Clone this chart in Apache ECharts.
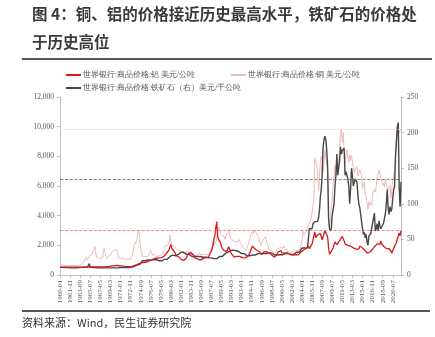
<!DOCTYPE html>
<html><head><meta charset="utf-8">
<script src="https://cdn.jsdelivr.net/npm/echarts@6/dist/echarts.min.js"></script>
<style>html,body{margin:0;padding:0;background:#fff}#c{width:435px;height:337px}</style>
</head><body><div id="c"></div>
<script>
// bimonthly categories 1960-01 .. 2022-01
const categories = [];
for (let y = 1960; y <= 2021; y++) { for (const m of ['01','03','05','07','09','11']) categories.push(y + '-' + m); }
categories.push('2022-01');

// Aluminium, USD/mt (left axis) — Jan,Mar,May,Jul,Sep,Nov per year
const aluminium = [
511,511,511,511,511,511, 505,505,500,500,500,500, 490,485,485,485,480,480, 480,490,495,500,500,505,
510,515,520,525,525,530, 535,540,540,540,540,540, 540,540,540,540,540,540, 540,540,540,540,540,545,
550,560,565,565,570,570, 580,590,600,610,620,630, 630,640,640,640,630,620, 620,615,610,600,590,580,
570,560,560,560,560,560, 560,580,600,630,660,700, 700,720,750,790,820,840, 840,850,860,860,870,880,
900,930,960,1000,1020,1040, 1080,1100,1120,1130,1140,1150, 1160,1160,1170,1170,1180,1200, 1300,1400,1450,1500,1550,1700,
1900,2050,1800,1750,1700,1550, 1450,1300,1250,1200,1200,1150, 1050,1000,1000,980,950,970, 1150,1300,1450,1550,1550,1500,
1500,1450,1300,1150,1100,1150, 1080,1050,1050,1000,1000,1000, 1100,1150,1150,1180,1200,1150, 1200,1350,1400,1600,1800,2000,
2500,2650,3200,3600,2600,2400, 2300,2200,1950,1800,1700,1650, 1550,1550,1600,1550,1900,1750, 1550,1450,1350,1300,1200,1100,
1200,1250,1250,1300,1250,1150, 1150,1170,1150,1200,1150,1050, 1150,1270,1330,1480,1550,1800, 1950,1850,1800,1900,1750,1650,
1600,1550,1550,1500,1380,1450, 1550,1600,1620,1580,1660,1550, 1480,1420,1400,1350,1330,1280, 1200,1200,1350,1450,1550,1500,
1650,1650,1500,1580,1600,1480, 1600,1480,1500,1430,1370,1380, 1380,1410,1340,1360,1300,1370, 1380,1400,1360,1430,1420,1560,
1620,1650,1700,1700,1700,1800, 1840,1950,1780,1850,1840,2100, 2380,2430,2900,2510,2460,2710, 2820,2770,2800,2700,2380,2460,
2440,3000,2900,3070,2560,1850, 1400,1340,1460,1700,1860,1950, 2230,2200,2050,1990,2120,2300, 2440,2550,2600,2500,2300,2100,
2150,2200,2000,1880,2050,1950, 2040,1910,1830,1770,1760,1750, 1730,1710,1750,1950,1990,2060, 1820,1770,1800,1640,1590,1470,
1480,1530,1550,1630,1600,1740, 1790,1900,1910,1900,2100,2100, 2210,2070,2300,2090,2030,1940, 1850,1870,1790,1800,1750,1770,
1770,1610,1460,1640,1750,1930, 2000,2190,2430,2490,2830,2640, 3000
];

// Copper, USD/mt (left axis)
const copper = [
690,690,700,690,680,660, 640,630,630,640,640,640, 645,645,645,645,645,645, 645,645,645,645,645,660,
700,750,900,1000,1200,1300, 1000,1200,1300,1300,1350,1400, 1450,1700,1950,1500,1200,1200, 1150,1100,1050,1050,1150,1300,
1800,1600,1250,1100,1150,1200, 1300,1400,1500,1550,1600,1700, 1700,1750,1700,1450,1200,1100, 1050,1100,1200,1150,1100,1050,
1050,1100,1100,1050,1050,1050, 1200,1400,1600,2000,1900,2100, 2400,2800,3000,2400,1800,1500, 1250,1250,1250,1250,1250,1200,
1250,1350,1500,1650,1450,1300, 1400,1450,1350,1250,1200,1250, 1300,1250,1350,1350,1400,1450, 1700,2000,1950,1950,2000,2150,
2700,2300,2000,2100,2100,1950, 1850,1850,1700,1750,1750,1650, 1650,1550,1450,1450,1400,1500, 1550,1650,1700,1650,1550,1400,
1400,1500,1450,1300,1350,1350, 1350,1400,1500,1400,1350,1400, 1400,1400,1350,1350,1350,1350, 1350,1400,1500,1750,1900,2300,
2300,2100,2250,2200,2700,3200, 3050,3000,2700,2700,2800,2600, 2400,2600,2700,2900,3100,2700, 2500,2400,2350,2350,2400,2250,
2150,2250,2250,2400,2300,2150, 2100,2050,1850,1900,1850,1650, 1800,1900,2200,2450,2500,2800, 2950,2800,2800,3050,2850,2900,
2600,2550,2700,2000,1900,2300, 2400,2400,2600,2500,2100,1900, 1700,1750,1700,1650,1650,1600, 1450,1400,1500,1700,1750,1750,
1850,1750,1800,1800,1950,1850, 1750,1750,1650,1550,1450,1450, 1550,1600,1600,1600,1470,1600, 1650,1650,1650,1700,1800,2050,
2400,2950,2700,2800,2900,3050, 3200,3300,3250,3600,3850,4200, 4700,5100,7900,7700,7600,7000, 5700,6400,7700,8000,7650,6950,
7050,8450,8400,8400,7000,3700, 3200,3750,4550,5200,6200,6700, 7400,7450,6850,6750,7700,8450, 9550,9800,8950,9600,8300,7550,
8050,8450,7950,7600,8100,7700, 8050,7650,7250,6900,7150,7050, 7300,6650,6900,7100,6900,6700, 5800,5900,6300,5450,5200,4800,
4450,4950,4700,4850,4700,5450, 5750,5820,5600,5980,6580,6820, 7070,6800,6830,6250,6050,6200, 5940,6440,6030,5940,5760,5860,
6050,5180,5240,6370,6700,7060, 7970,8990,10180,9430,9320,9770, 9780
];

// Iron ore, USD/dmt (right axis)
const ironOre = [
11,11,11,11,11,11, 11,11,11,11,11,11, 11,11,11,11,11,11, 11,11,11,11,11,11,
11,11,11,11,11,11, 11,11,16,11,11,11, 10.5,10.5,10.5,10.5,10.5,10.5, 10,10,10,10,10,10,
10,10,10,10,10,10, 10,10,10,10,10,10, 10,10,10,10,10,10, 10.5,10.5,10.5,10.5,10.5,10.5,
10.5,10.5,10.5,10.5,10.5,10.5, 11,11,11,12,12,12, 14,14,14,15,15,15, 20,20,20,20,20,20,
21,21,21,21,21,21, 21.5,21.5,21.5,21.5,21.5,21.5, 20,20,20,20,20,20, 22,22,22,22,22,22,
26,26,28,28,28,28, 27,27,29,29,29,29, 32,32,32,32,32,32, 29,29,29,29,29,29,
26,26,26,26,26,26, 26,26,26,26,26,26, 25,25,25,25,25,25, 24,24,24,24,24,24,
23,23,23,23,23,23, 26,26,26,26,26,26, 30,30,32,32,32,32, 34,34,35,35,35,35,
34,34,33,33,33,33, 30,30,30,30,30,30, 27,27,27,27,27,27, 28,28,28,28,28,28,
30,30,30,30,30,30, 30,30,30,30,30,30, 31,31,31,31,31,31, 28,28,28,28,28,28,
28.5,28.5,28.5,28.5,28.5,28.5, 30,30,30,30,30,30, 29,29,29,29,29,29, 32,32,32,32,32,32,
38,38,38,38,38,38, 38,38,65,65,65,65, 72,72,75,75,75,75, 80,90,110,120,140,180,
190,195,190,175,150,80, 65,62,65,85,85,100, 125,140,170,140,140,160, 180,170,175,175,178,140,
145,145,135,125,100,120, 150,140,125,130,135,135, 130,112,100,95,85,75, 65,57,60,52,57,46,
42,55,55,58,57,73, 80,87,62,65,72,62, 76,69,65,65,67,73, 80,86,100,120,93,85,
96,89,93,108,120,124, 168,168,207,214,124,96, 131
];

const leftTicks = [0, 2000, 4000, 6000, 8000, 10000, 12000];
const rightTicks = [0, 50, 100, 150, 200, 250];
const names = ['世界银行:商品价格:铝 美元/公吨', '世界银行:商品价格:铜 美元/公吨', '世界银行:商品价格:铁矿石（右）美元/干公吨'];
const refLevels = { aluminium: 3050, copper: 9800, ironOre: 135 };

const serif = '"Liberation Serif", "DejaVu Serif", serif';
const cjk = '"Noto Sans CJK SC", sans-serif';
const axisColor = '#bfbfbf';
const labelColor = '#595959';

const chart = echarts.init(document.getElementById('c'), null, { renderer: 'canvas' });
chart.setOption({
  animation: false,
  backgroundColor: '#fff',
  grid: { left: 60, right: 34, top: 97, bottom: 62, containLabel: false },
  graphic: [
    { type: 'text', left: 32, top: 6, style: { text: '图 4：铜、铝的价格接近历史最高水平，铁矿石的价格处', font: 'bold 15.5px ' + cjk, fill: '#3a3a3a' } },
    { type: 'text', left: 32, top: 34, style: { text: '于历史高位', font: 'bold 15.5px ' + cjk, fill: '#3a3a3a' } },
    { type: 'line', shape: { x1: 22, y1: 59, x2: 432, y2: 59 }, style: { stroke: '#555', lineWidth: 2 } },
    { type: 'line', shape: { x1: 22, y1: 311, x2: 430, y2: 311 }, style: { stroke: '#555', lineWidth: 2 } },
    { type: 'text', left: 22, top: 317, style: { text: '资料来源：Wind，民生证券研究院', font: '11px ' + cjk, fill: '#333' } }
  ],
  legend: [
    { data: [names[0], names[1]], left: 61, top: 66, itemWidth: 15, itemHeight: 2, itemGap: 36, icon: 'rect',
      textStyle: { fontSize: 7.5, color: '#555', fontFamily: serif, padding: [0,0,0,-3] } },
    { data: [names[2]], left: 61, top: 79, itemWidth: 15, itemHeight: 2, icon: 'rect',
      textStyle: { fontSize: 7.5, color: '#555', fontFamily: serif, padding: [0,0,0,-3] } }
  ],
  xAxis: {
    type: 'category', data: categories, boundaryGap: false,
    axisLine: { lineStyle: { color: axisColor } },
    axisTick: { interval: 10, length: 3, lineStyle: { color: axisColor } },
    axisLabel: { interval: 10, rotate: 90, fontSize: 7, color: labelColor, fontFamily: serif, margin: 5 },
    splitLine: { show: false }
  },
  yAxis: [
    { type: 'value', min: 0, max: 12000, interval: 2000, position: 'left',
      axisLine: { show: true, lineStyle: { color: axisColor } },
      axisTick: { show: true, length: 3, lineStyle: { color: axisColor } },
      axisLabel: { fontSize: 7.5, color: labelColor, fontFamily: serif, margin: 6 },
      splitLine: { show: false } },
    { type: 'value', min: 0, max: 250, interval: 50, position: 'right',
      axisLine: { show: true, lineStyle: { color: axisColor } },
      axisTick: { show: true, length: 3, lineStyle: { color: axisColor } },
      axisLabel: { fontSize: 7.5, color: labelColor, fontFamily: serif, margin: 6 },
      splitLine: { show: false } }
  ],
  series: [
    { name: names[1], type: 'line', data: copper, yAxisIndex: 0, showSymbol: false, symbol: 'none',
      lineStyle: { color: '#f2b8b8', width: 1 }, itemStyle: { color: '#f2b8b8' },
      markLine: { silent: true, symbol: 'none', label: { show: false },
        lineStyle: { color: '#f6cccc', type: 'dotted', width: 1 }, data: [{ yAxis: refLevels.copper }] } },
    { name: names[2], type: 'line', data: ironOre, yAxisIndex: 1, showSymbol: false, symbol: 'none',
      lineStyle: { color: '#474747', width: 1.4 }, itemStyle: { color: '#474747' },
      markLine: { silent: true, symbol: 'none', label: { show: false },
        lineStyle: { color: '#6a6a6a', type: 'dashed', width: 0.8 }, data: [{ yAxis: refLevels.ironOre }] } },
    { name: names[0], type: 'line', data: aluminium, yAxisIndex: 0, showSymbol: false, symbol: 'none',
      lineStyle: { color: '#d7191c', width: 1.3 }, itemStyle: { color: '#d7191c' },
      markLine: { silent: true, symbol: 'none', label: { show: false },
        lineStyle: { color: '#e57373', type: 'dashed', width: 0.8 }, data: [{ yAxis: refLevels.aluminium }] } }
  ]
});
</script></body></html>
